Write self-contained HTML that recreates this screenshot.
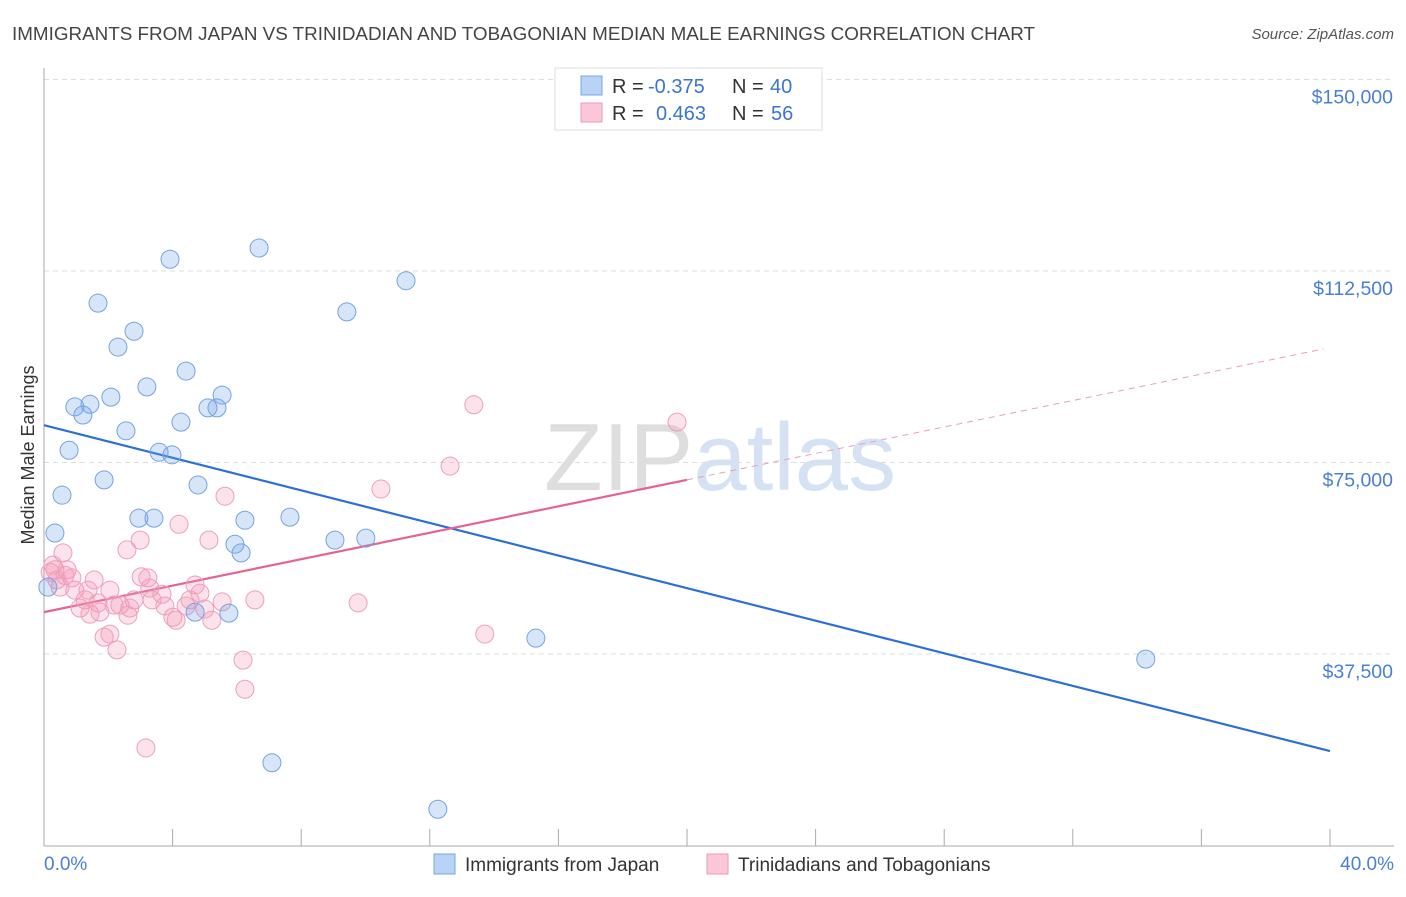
<!DOCTYPE html>
<html><head><meta charset="utf-8"><style>
body{margin:0;background:#fff;font-family:"Liberation Sans",sans-serif}
svg text{font-family:"Liberation Sans",sans-serif}
</style></head><body>
<svg id="chart" width="1406" height="892" xmlns="http://www.w3.org/2000/svg">
<text x="12" y="40" font-size="18" fill="#444" textLength="1023" lengthAdjust="spacingAndGlyphs">IMMIGRANTS FROM JAPAN VS TRINIDADIAN AND TOBAGONIAN MEDIAN MALE EARNINGS CORRELATION CHART</text>
<text x="1394" y="39" font-size="15" fill="#555" text-anchor="end" font-style="italic">Source: ZipAtlas.com</text>
<text x="720" y="490" font-size="96" text-anchor="middle" fill="#e4e4e4" font-family="Liberation Serif"><tspan fill="#dedede">ZIP</tspan><tspan fill="#d4e2f4" font-family="Liberation Sans">atlas</tspan></text>
<g id="grid"></g><g id="axes"></g><g id="lines"></g><g id="pts"></g>
<text transform="translate(34,455) rotate(-90)" font-size="18" fill="#333" text-anchor="middle">Median Male Earnings</text>
<text x="44" y="870" font-size="19" fill="#4a7fd4">0.0%</text>
<text x="1394" y="870" font-size="19" fill="#4a7fd4" text-anchor="end">40.0%</text>
<g>
<rect x="555" y="68" width="267" height="62" fill="#fff" stroke="#ddd"/>
<rect x="581" y="76" width="21" height="19" fill="#b8d3f5" stroke="#7aa5e5"/>
<rect x="581" y="103" width="21" height="19" fill="#fbc6d5" stroke="#ee9ab5"/>
<text x="612" y="93" font-size="20" fill="#333">R =</text>
<text x="648" y="93" font-size="20" fill="#3a75d0">-0.375</text>
<text x="732" y="93" font-size="20" fill="#333">N =</text>
<text x="770" y="93" font-size="20" fill="#3a75d0">40</text>
<text x="612" y="120" font-size="20" fill="#333">R =</text>
<text x="656" y="120" font-size="20" fill="#3a75d0">0.463</text>
<text x="732" y="120" font-size="20" fill="#333">N =</text>
<text x="771" y="120" font-size="20" fill="#3a75d0">56</text>
</g>
<g>
<rect x="434" y="854" width="21" height="20" fill="#b8d3f5" stroke="#7aa5e5"/>
<text x="465" y="871" font-size="19" fill="#333">Immigrants from Japan</text>
<rect x="707" y="854" width="21" height="20" fill="#fbc6d5" stroke="#ee9ab5"/>
<text x="738" y="871" font-size="19" fill="#333">Trinidadians and Tobagonians</text>
</g>
</svg>
<script>
const yTicks=[37500,75000,112500,150000];
const yTickLabels=["$37,500","$75,000","$112,500","$150,000"];
const xTicks=[0,4,8,12,16,20,24,28,32,36,40];
const japanX=[0.34,0.12,0.56,0.78,0.96,1.21,1.43,1.68,1.87,2.08,2.30,2.55,2.80,2.95,3.20,3.42,3.58,3.92,3.98,4.26,4.42,4.79,4.70,5.10,5.38,5.54,5.75,5.94,6.13,6.25,6.69,7.09,7.65,9.05,9.42,10.01,11.26,12.25,15.30,34.27];
const japanY=[61200,50600,68600,77400,85900,84300,86400,106200,71600,87800,97600,81200,100700,64100,89800,64100,77000,114800,76500,82900,92900,70600,45700,85700,85700,88200,45500,59000,57300,63700,117000,16200,64300,59800,104500,60200,110600,7100,40600,36500];
const trinX=[0.19,0.34,0.59,0.50,0.72,0.87,0.96,1.12,1.37,1.56,1.68,1.43,1.87,2.05,2.27,2.05,2.36,2.58,2.61,2.80,2.99,3.02,3.23,3.36,3.17,3.67,4.01,4.20,4.11,4.42,4.70,4.85,5.13,5.22,5.00,5.63,5.54,6.19,6.25,6.56,9.77,10.48,12.63,13.37,13.71,19.69,0.40,1.74,2.67,3.76,0.28,0.65,1.28,2.18,4.54,3.29];
const trinY=[53500,54000,57300,50600,54000,52400,50000,46500,50000,52000,47500,45300,40800,41400,38300,50000,47100,57900,45100,48100,59800,52600,52400,48100,19100,49200,44700,62900,44100,46900,51000,49400,59800,44100,46300,68400,47700,36300,30600,48100,47500,69800,74300,86300,41400,82900,52000,45700,46500,46900,54900,52900,48100,47100,48100,50400];
const japanTrend=[[0,82300],[40,18500]];
const trinTrendSolid=[[0,45700],[20,71600]];
const trinTrendDash=[[20,71600],[39.8,97240]];
const NS="http://www.w3.org/2000/svg";
const X=v=>44+v/40*1286, Y=v=>845.5-v/37500*191.5;
function mk(t,a,p){const e=document.createElementNS(NS,t);for(const k in a)e.setAttribute(k,a[k]);p.appendChild(e);return e;}
const grid=document.getElementById('grid'),axes=document.getElementById('axes'),lines=document.getElementById('lines'),pts=document.getElementById('pts');
yTicks.forEach((t,i)=>{
 const l=mk('line',{x1:44,x2:1394,y1:Y(t),y2:Y(t),stroke:'#ddd','stroke-dasharray':'5,4'},grid);
 
 
 const tx=mk('text',{x:1393,y:Y(t)+24,'font-size':19.5,fill:'#4a7fd4','text-anchor':'end'},grid);
 tx.textContent=yTickLabels[i];
 
 
});
const ya=mk('line',{x1:44,x2:44,y1:68,y2:846,stroke:'#aaa'},axes);


const xa=mk('line',{x1:44,x2:1394,y1:846,y2:846,stroke:'#aaa'},axes);


xTicks.forEach(t=>{const l=mk('line',{x1:X(t),x2:X(t),y1:829,y2:846,stroke:'#aaa'},axes);
 
 });
function dots(xs,ys,fill,stroke,name){xs.forEach((x,i)=>{const c=mk('circle',{cx:X(x),cy:Y(ys[i]),r:9,fill:fill,stroke:stroke,'stroke-width':1},pts);
 
 });}
dots(trinX,trinY,'rgba(245,150,180,0.28)','#eda0bb','trinidad-point');
dots(japanX,japanY,'rgba(110,160,230,0.28)','#76a3e2','japan-point');
function ln(p,col,w,dash,name){const l=mk('line',{x1:X(p[0][0]),y1:Y(p[0][1]),x2:X(p[1][0]),y2:Y(p[1][1]),stroke:col,'stroke-width':w},lines);
 if(dash)l.setAttribute('stroke-dasharray',dash);
 
 }
ln(japanTrend,'#2d6fd6',2.2,null,'japan-trend-line');
ln(trinTrendSolid,'#e5648f',2.2,null,'trinidad-trend-line');
ln(trinTrendDash,'#e9a0b8',1,'6,5','trinidad-trend-extension');
</script>
</body></html>
